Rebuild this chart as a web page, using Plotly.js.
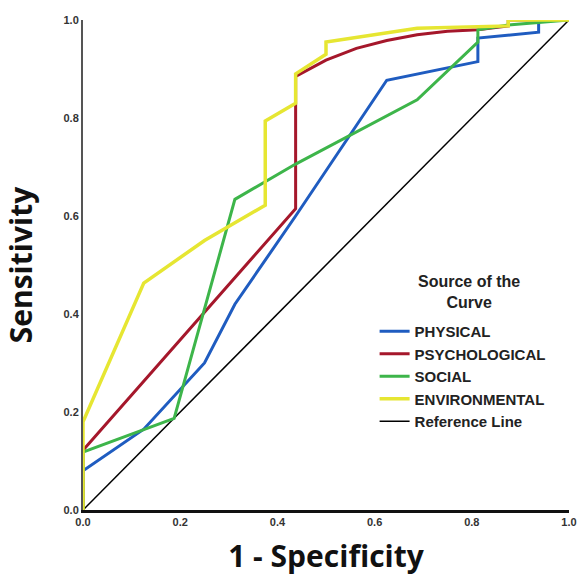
<!DOCTYPE html>
<html><head><meta charset="utf-8">
<script src="https://cdn.plot.ly/plotly-3.0.1.min.js"></script>
<style>html,body{margin:0;padding:0;background:#fff}</style>
</head><body><div id="chart" style="width:579px;height:576px"></div>
<script>
// Data
const physicalX = [0, 0, 0.125, 0.25, 0.3125, 0.4375, 0.625, 0.8125, 0.8125, 0.9375, 0.9375, 1];
const physicalY = [0, 0.08, 0.165, 0.30, 0.42, 0.60, 0.877, 0.915, 0.963, 0.975, 1, 1];
const psychX = [0, 0, 0.4375, 0.4375, 0.5, 0.5625, 0.625, 0.6875, 0.75, 0.8125, 0.875, 0.875, 1];
const psychY = [0, 0.122, 0.615, 0.885, 0.918, 0.942, 0.958, 0.97, 0.977, 0.98, 0.988, 1, 1];
const socialX = [0, 0, 0.1875, 0.3125, 0.4375, 0.6875, 0.8125, 0.8125, 0.875, 1];
const socialY = [0, 0.118, 0.187, 0.634, 0.706, 0.837, 0.955, 0.98, 0.99, 1];
const envX = [0, 0, 0.125, 0.25, 0.375, 0.375, 0.4375, 0.4375, 0.5, 0.5, 0.6875, 0.875, 0.875, 1];
const envY = [0, 0.18, 0.463, 0.55, 0.622, 0.794, 0.83, 0.89, 0.93, 0.955, 0.983, 0.988, 1, 1];
const refX = [0, 1];
const refY = [0, 1];
const tickVals = [0, 0.2, 0.4, 0.6, 0.8, 1.0];
const tickText = ["0.0", "0.2", "0.4", "0.6", "0.8", "1.0"];
const legendTitle = "Source of the<br>Curve";

const traces = [
  {x: refX, y: refY, name: "Reference Line", mode: "lines", line: {color: "#000", width: 1.5}, legendrank: 5},
  {x: physicalX, y: physicalY, name: "PHYSICAL", mode: "lines", line: {color: "#1f5cc0", width: 3}, legendrank: 1},
  {x: psychX, y: psychY, name: "PSYCHOLOGICAL", mode: "lines", line: {color: "#a5172b", width: 3}, legendrank: 2},
  {x: socialX, y: socialY, name: "SOCIAL", mode: "lines", line: {color: "#3db54a", width: 3}, legendrank: 3},
  {x: envX, y: envY, name: "ENVIRONMENTAL", mode: "lines", line: {color: "#e6e632", width: 3.5}, legendrank: 4}
];

const layout = {
  width: 579, height: 576,
  margin: {l: 83, r: 10, t: 20, b: 66},
  paper_bgcolor: "#fff", plot_bgcolor: "#fff",
  showlegend: true,
  legend: {
    x: 0.6, y: 0.398, xanchor: "left", yanchor: "top",
    font: {family: "Liberation Sans, Arial, sans-serif", size: 15, color: "#222", weight: "bold"},
    tracegroupgap: 0, itemwidth: 30,
    bgcolor: "rgba(0,0,0,0)"
  },
  annotations: [{
    text: legendTitle, xref: "paper", yref: "paper", x: 0.795, y: 0.487,
    xanchor: "center", yanchor: "top", showarrow: false, align: "center",
    font: {family: "Liberation Sans, Arial, sans-serif", size: 16, color: "#222", weight: "bold"}
  }],
  xaxis: {
    range: [0, 1], tickvals: tickVals, ticktext: tickText,
    showgrid: false, zeroline: false, showline: true, linecolor: "#111", linewidth: 3,
    ticks: "", tickfont: {family: "Liberation Sans, Arial, sans-serif", size: 11, color: "#333", weight: "bold"},
    title: {text: "1 - Specificity", standoff: 22, font: {family: "Open Sans, sans-serif", size: 30, color: "#111", weight: "bold"}}
  },
  yaxis: {
    range: [0, 1], tickvals: tickVals, ticktext: tickText,
    showgrid: false, zeroline: false, showline: true, linecolor: "#555", linewidth: 2,
    ticks: "", tickfont: {family: "Liberation Sans, Arial, sans-serif", size: 11, color: "#333", weight: "bold"},
    title: {text: "Sensitivity", standoff: 22, font: {family: "Open Sans, sans-serif", size: 30, color: "#111", weight: "bold"}}
  }
};
Plotly.newPlot("chart", traces, layout, {displayModeBar: false, staticPlot: true});
</script></body></html>
